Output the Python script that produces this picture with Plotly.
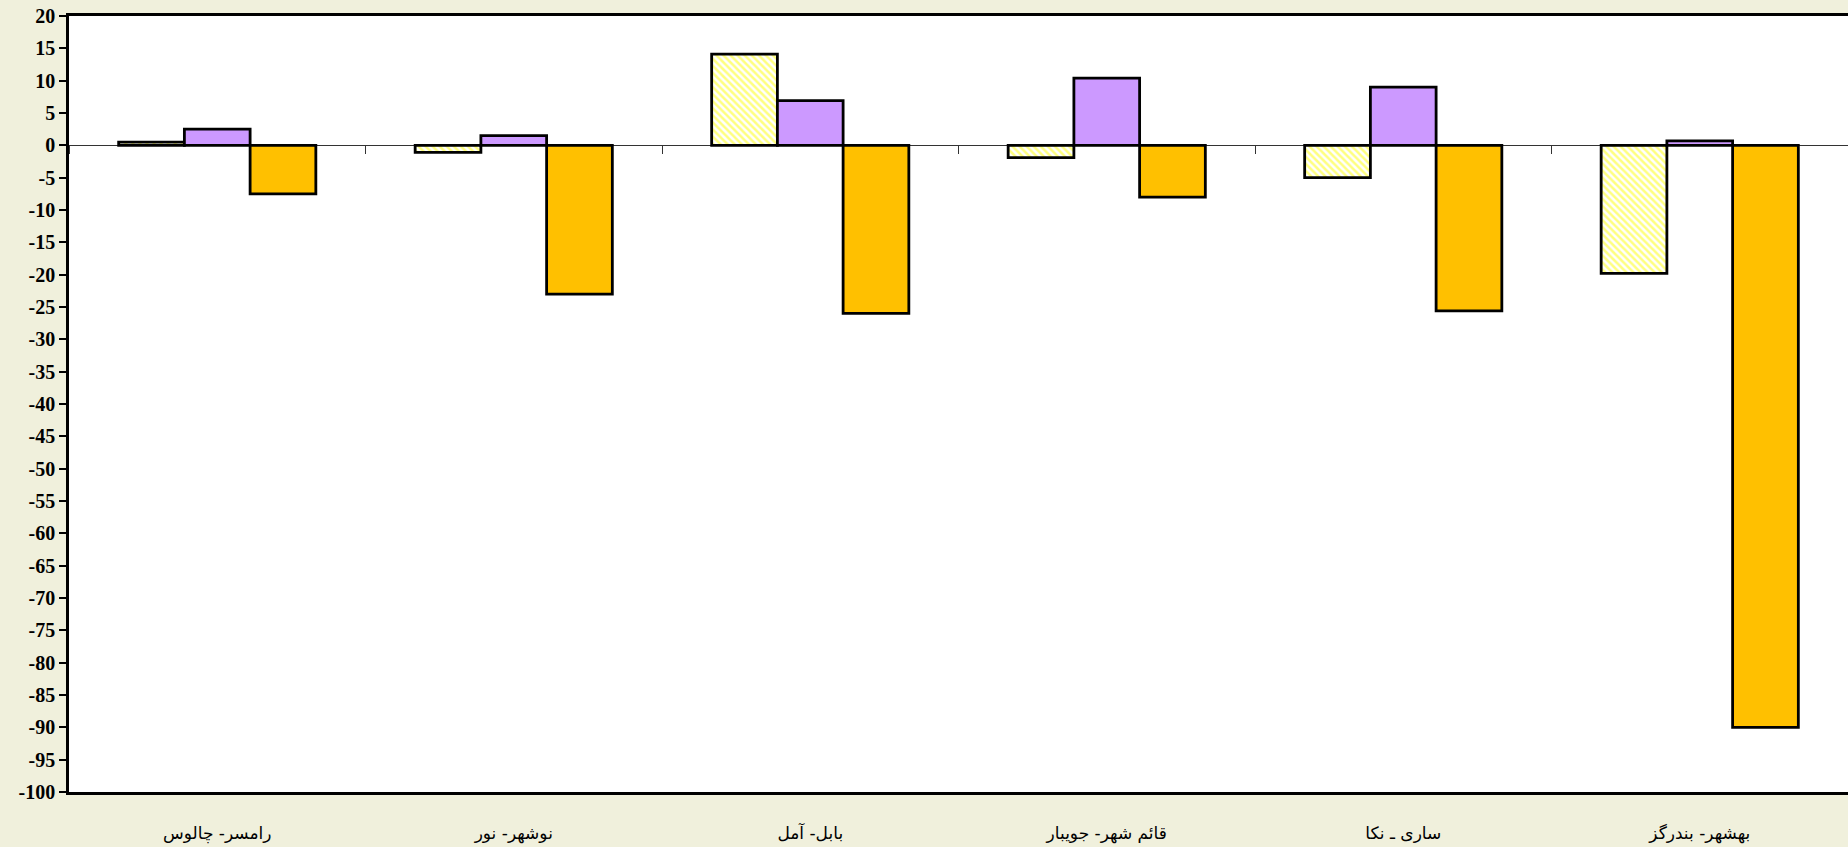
import plotly.graph_objects as go

categories = ["رامسر- چالوس", "نوشهر- نور", "بابل- آمل", "قائم شهر- جویبار", "ساری ـ نکا", "بهشهر- بندرگز"]
series_yellow = [0.5, -1.1, 14.1, -1.9, -5.0, -19.8]
series_purple = [2.5, 1.5, 6.9, 10.4, 9.0, 0.7]
series_orange = [-7.5, -23.0, -26.0, -8.0, -25.6, -90.0]
y_ticks = list(range(-100, 25, 5))

outline = dict(color="black", width=2.8)

fig = go.Figure()
fig.add_trace(go.Bar(
    x=categories, y=series_yellow, name="s1",
    marker=dict(color="white", line=outline,
                pattern=dict(shape="\\", fgcolor="#FFFF00", bgcolor="white",
                             size=5, solidity=0.5, fillmode="overlay")),
))
fig.add_trace(go.Bar(x=categories, y=series_purple, name="s2",
                     marker=dict(color="#CC99FF", line=outline)))
fig.add_trace(go.Bar(x=categories, y=series_orange, name="s3",
                     marker=dict(color="#FFC000", line=outline)))
# invisible helper for the category tick marks on the zero line
fig.add_trace(go.Scatter(x=categories, y=[0] * len(categories), xaxis="x2",
                         mode="markers", marker=dict(opacity=0),
                         showlegend=False, hoverinfo="skip"))

fig.update_layout(
    width=1848, height=847,
    margin=dict(l=69, r=0, t=16, b=55),
    paper_bgcolor="#f0f0dc",
    plot_bgcolor="white",
    barmode="group", bargap=0.335, bargroupgap=0,
    showlegend=False,
    xaxis=dict(
        type="category", showline=True, linecolor="black", linewidth=2.5,
        mirror=True, ticks="", showgrid=False, zeroline=False,
        tickfont=dict(family="DejaVu Sans", size=17, color="black"),
        ticklabelstandoff=24,
    ),
    xaxis2=dict(
        type="category", overlaying="x", anchor="free", position=100 / 120,
        matches="x", side="bottom", showline=False, showgrid=False,
        ticks="outside", tickson="boundaries", ticklen=8, tickwidth=1,
        tickcolor="#333", showticklabels=False,
    ),
    yaxis=dict(
        range=[-100, 20], tickvals=y_ticks, ticktext=[str(v) for v in y_ticks],
        showline=True, linecolor="black", linewidth=2.5,
        ticks="outside", ticklen=7, tickwidth=1.5, tickcolor="black",
        showgrid=False, zeroline=True, zerolinecolor="#333", zerolinewidth=1,
        tickfont=dict(family="Liberation Serif", size=20, color="black", weight="bold"),
    ),
)

fig.write_html(
    "out.html",
    config={"displayModeBar": False},
    post_script="document.body.style.margin='0';document.body.style.overflow='hidden';",
)
